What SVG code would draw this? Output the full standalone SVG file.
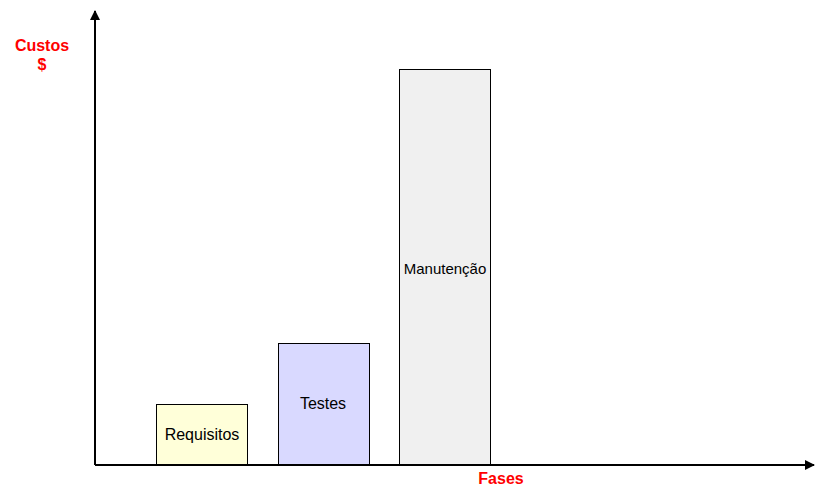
<svg xmlns="http://www.w3.org/2000/svg" width="815" height="487" viewBox="0 0 815 487">
<style>
.bar{stroke:#000;stroke-width:1}
.lbl{font-family:"Liberation Sans",Arial,sans-serif;fill:#000;text-anchor:middle;font-size:16px}
.ax{font-family:"Liberation Sans",Arial,sans-serif;fill:#ff0000;font-weight:bold;text-anchor:middle;font-size:16px}
.axis{stroke:#000;stroke-width:2;fill:none}
</style>
<defs>
<marker id="arr" markerWidth="10" markerHeight="10" refX="9" refY="5" orient="auto" markerUnits="userSpaceOnUse">
<path d="M0,0 L10,5 L0,10 Z" fill="#000"/>
</marker>
</defs>
<rect width="815" height="487" fill="#fff"/>
<g id="requisitos">
<rect class="bar" x="156.5" y="404.5" width="91" height="61" fill="#ffffd9"/>
<text class="lbl" x="202" y="440">Requisitos</text>
</g>
<g id="testes">
<rect class="bar" x="278.5" y="343.5" width="91" height="122" fill="#d9d9ff"/>
<text class="lbl" x="323" y="409">Testes</text>
</g>
<g id="manutencao">
<rect class="bar" x="399.5" y="69.5" width="91" height="396" fill="#f0f0f0"/>
<text class="lbl" x="445" y="274" style="font-size:15px">Manutenção</text>
</g>
<g id="connectors">
<line class="axis" x1="95" y1="465" x2="95" y2="11" marker-end="url(#arr)"/>
<line class="axis" x1="95" y1="465" x2="814" y2="465" marker-end="url(#arr)"/>
</g>
<g id="labels">
<text class="ax" x="42" y="51">Custos</text>
<text class="ax" x="42" y="70">$</text>
<text class="ax" x="501" y="484">Fases</text>
</g>
</svg>
